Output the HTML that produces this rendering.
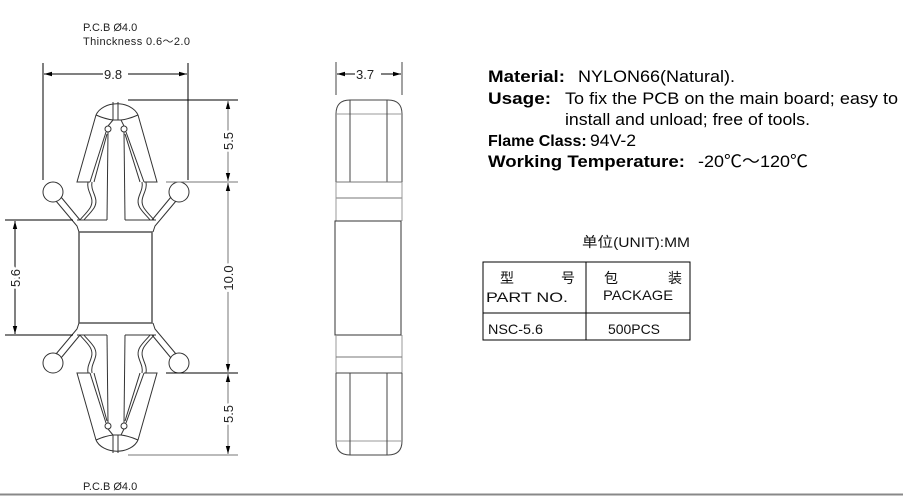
<!DOCTYPE html>
<html><head><meta charset="utf-8"><style>
html,body{margin:0;padding:0;background:#fff;width:903px;height:496px;overflow:hidden}
svg{position:absolute;left:0;top:0}
.t{font-family:"Liberation Sans","Noto Sans CJK SC",sans-serif}
</style></head><body>
<svg width="903" height="496" viewBox="0 0 903 496" xmlns="http://www.w3.org/2000/svg">
<defs>
<marker id="a" markerWidth="8" markerHeight="6" refX="8" refY="3" orient="auto-start-reverse" markerUnits="userSpaceOnUse"><path d="M0,0.8 L8,3 L0,5.2z" fill="#000"/></marker>
<g id="half" fill="none" stroke="#333" stroke-width="1">
  <path d="M96,115 A22,16 0 0 1 138,115"/>
  <path d="M96,115 Q105,119 113,120 L121,120 Q129,119 138,115"/>
  <line x1="113" y1="102" x2="113" y2="120"/><line x1="118" y1="102" x2="118" y2="120"/>
  <line x1="113" y1="120" x2="108" y2="126"/><line x1="121" y1="120" x2="124" y2="126"/>
  <circle cx="108" cy="129" r="3"/><circle cx="124" cy="129" r="3"/>
  <polyline points="96,115 77,182 90,182"/>
  <polyline points="138,115 157,182 144,182"/>
  <line x1="90" y1="182" x2="106" y2="132"/><line x1="94" y1="182" x2="107" y2="134"/>
  <line x1="144" y1="182" x2="126" y2="132"/><line x1="140" y1="182" x2="125" y2="134"/>
  <line x1="108" y1="132" x2="107" y2="220"/><line x1="124" y1="132" x2="125" y2="220"/>
  <path d="M88,182 C86,192 96,198 90,208 C86,214 82,217 80,220"/>
  <path d="M92,182 C90,192 100,198 94,208 C90,214 86,217 84,220"/>
  <path d="M146,182 C148,192 138,198 144,208 C148,214 152,217 154,220"/>
  <path d="M142,182 C144,192 134,198 140,208 C144,214 148,217 150,220"/>
  <line x1="77" y1="220" x2="107" y2="220"/><line x1="125" y1="220" x2="156" y2="220"/>
  <circle cx="53" cy="192" r="10"/><circle cx="179" cy="192" r="10"/>
  <polyline points="56,201 77,226 79,232"/><line x1="61" y1="197" x2="80" y2="220"/>
  <polyline points="176,201 155,226 153,232"/><line x1="171" y1="197" x2="152" y2="220"/>
</g>
</defs>
<use href="#half"/>
<use href="#half" transform="translate(0,555) scale(1,-1)"/>
<rect x="79" y="232" width="73" height="91" fill="none" stroke="#555" stroke-width="1.5"/>
<g stroke="#000" stroke-width="1" fill="none">
<line x1="43" y1="63" x2="43" y2="180"/><line x1="188" y1="63" x2="188" y2="180"/>
<line x1="44" y1="74" x2="187" y2="74" marker-start="url(#a)" marker-end="url(#a)"/>
<line x1="128" y1="100" x2="238" y2="100"/>
<line x1="166" y1="182" x2="238" y2="182" stroke="#777"/>
<line x1="166" y1="373" x2="238" y2="373"/>
<line x1="128" y1="455" x2="238" y2="455" stroke="#777"/>
<line x1="228" y1="101" x2="228" y2="181" stroke="#777" marker-start="url(#a)" marker-end="url(#a)"/>
<line x1="228" y1="183" x2="228" y2="372" stroke="#777" marker-start="url(#a)" marker-end="url(#a)"/>
<line x1="228" y1="374" x2="228" y2="454" stroke="#777" marker-start="url(#a)" marker-end="url(#a)"/>
<line x1="5" y1="220" x2="73" y2="220"/><line x1="5" y1="335" x2="73" y2="335"/>
<line x1="15" y1="221" x2="15" y2="334" marker-start="url(#a)" marker-end="url(#a)"/>
</g>
<g class="t" font-size="13" fill="#222">
<rect x="103" y="66" width="25" height="14" fill="#fff"/>
<text x="104" y="79">9.8</text>
<text transform="translate(233,141) rotate(-90)" text-anchor="middle" fill="#fff" stroke="#fff" stroke-width="5">5.5</text>
<text transform="translate(233,141) rotate(-90)" text-anchor="middle">5.5</text>
<text transform="translate(233,278) rotate(-90)" text-anchor="middle" fill="#fff" stroke="#fff" stroke-width="5">10.0</text>
<text transform="translate(233,278) rotate(-90)" text-anchor="middle">10.0</text>
<text transform="translate(233,414) rotate(-90)" text-anchor="middle" fill="#fff" stroke="#fff" stroke-width="5">5.5</text>
<text transform="translate(233,414) rotate(-90)" text-anchor="middle">5.5</text>
<text transform="translate(20,278) rotate(-90)" text-anchor="middle" fill="#fff" stroke="#fff" stroke-width="5">5.6</text>
<text transform="translate(20,278) rotate(-90)" text-anchor="middle">5.6</text>
</g>
<g class="t" font-size="11" fill="#222">
<text x="83" y="31">P.C.B Ø4.0</text>
<text x="83" y="45" textLength="107">Thinckness  0.6～2.0</text>
<text x="83" y="490">P.C.B Ø4.0</text>
</g>
<line x1="0" y1="494.5" x2="903" y2="494.5" stroke="#888" stroke-width="2"/>
<g fill="none" stroke="#444" stroke-width="1">
<line x1="336" y1="62" x2="336" y2="95"/><line x1="402" y1="62" x2="402" y2="95"/>
<line x1="337" y1="74" x2="401" y2="74" stroke="#000" marker-start="url(#a)" marker-end="url(#a)"/>
<path d="M336,182 L336,114 Q336,100 350,100 L388,100 Q402,100 402,114 L402,182"/>
<line x1="336" y1="114" x2="402" y2="114" stroke="#999"/>
<line x1="350" y1="100" x2="350" y2="182"/><line x1="387" y1="100" x2="387" y2="182"/>
<line x1="336" y1="182" x2="402" y2="182" stroke="#777"/>
<line x1="336" y1="198" x2="402" y2="198" stroke="#777"/>
<line x1="336" y1="182" x2="336" y2="221" stroke="#999"/><line x1="402" y1="182" x2="402" y2="221" stroke="#999"/>
<rect x="335" y="221" width="66" height="114" stroke="#333"/>
<line x1="336" y1="335" x2="336" y2="373" stroke="#999"/><line x1="402" y1="335" x2="402" y2="373" stroke="#999"/>
<line x1="336" y1="357" x2="402" y2="357" stroke="#777"/>
<line x1="336" y1="373" x2="402" y2="373"/>
<path d="M336,373 L336,441 Q336,455 350,455 L388,455 Q402,455 402,441 L402,373"/>
<line x1="336" y1="441" x2="402" y2="441" stroke="#999"/>
<line x1="350" y1="373" x2="350" y2="455"/><line x1="387" y1="373" x2="387" y2="455"/>
</g>
<rect x="355" y="67" width="26" height="14" fill="#fff"/>
<text class="t" x="356" y="79" font-size="13" fill="#222">3.7</text>
<g class="t" font-size="17" fill="#000">
<text x="488" y="82" font-weight="bold" textLength="77" lengthAdjust="spacingAndGlyphs">Material:</text>
<text x="578" y="82" textLength="157" lengthAdjust="spacingAndGlyphs">NYLON66(Natural).</text>
<text x="488" y="104" font-weight="bold" textLength="63" lengthAdjust="spacingAndGlyphs">Usage:</text>
<text x="565" y="104" textLength="333" lengthAdjust="spacingAndGlyphs">To fix the PCB on the main board; easy to</text>
<text x="565" y="125" textLength="245" lengthAdjust="spacingAndGlyphs">install and unload; free of tools.</text>
<text x="488" y="146" font-weight="bold" font-size="16">Flame Class:</text>
<text x="590" y="146" textLength="46" lengthAdjust="spacingAndGlyphs">94V-2</text>
<text x="488" y="167" font-weight="bold" textLength="197" lengthAdjust="spacingAndGlyphs">Working Temperature:</text>
<text x="698" y="167" textLength="110" lengthAdjust="spacingAndGlyphs">-20℃～120℃</text>
</g>
<g class="t" font-size="14" fill="#111">
<text x="582" y="247" textLength="108" lengthAdjust="spacingAndGlyphs">单位(UNIT):MM</text>
<rect x="483" y="262" width="207" height="78" fill="none" stroke="#000"/>
<line x1="586" y1="262" x2="586" y2="340" stroke="#000"/>
<line x1="483" y1="313" x2="690" y2="313" stroke="#000"/>
<text x="500" y="283">型</text><text x="561" y="283">号</text>
<text x="486" y="302" textLength="82" lengthAdjust="spacingAndGlyphs">PART NO.</text>
<text x="604" y="283">包</text><text x="668" y="283">装</text>
<text x="603" y="300" textLength="70" lengthAdjust="spacingAndGlyphs">PACKAGE</text>
<text x="488" y="334" textLength="55" lengthAdjust="spacingAndGlyphs">NSC-5.6</text>
<text x="608" y="334" textLength="52" lengthAdjust="spacingAndGlyphs">500PCS</text>
</g>
</svg>
</body></html>
